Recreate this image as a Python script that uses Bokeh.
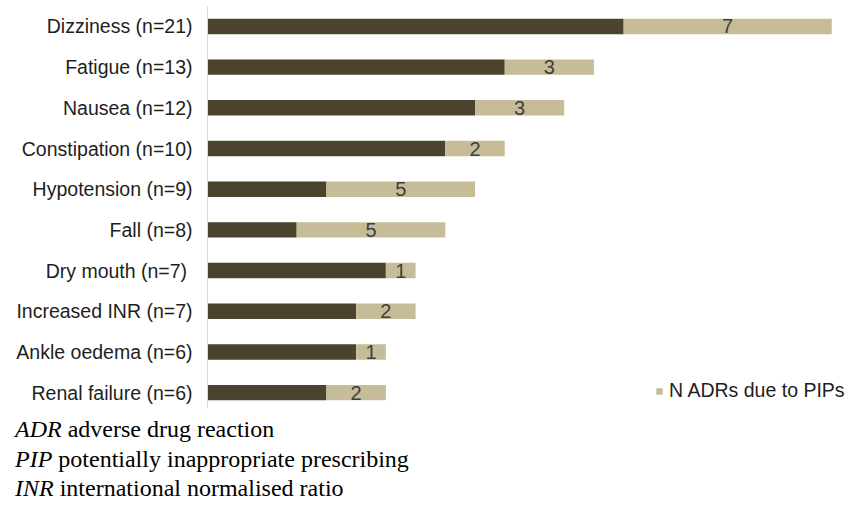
from bokeh.plotting import figure
from bokeh.models import Range1d, Div, Legend, LegendItem, ColumnDataSource, FixedTicker
from bokeh.layouts import column
from bokeh.embed import file_html
from bokeh.resources import INLINE
from bokeh.core.properties import value

categories = ["Dizziness (n=21)", "Fatigue (n=13)", "Nausea (n=12)", "Constipation (n=10)",
              "Hypotension (n=9)", "Fall (n=8)", "Dry mouth  (n=7)", "Increased INR (n=7)",
              "Ankle oedema (n=6)", "Renal failure (n=6)"]
totals = [21, 13, 12, 10, 9, 8, 7, 7, 6, 6]
pip_adrs = [7, 3, 3, 2, 5, 5, 1, 2, 1, 2]
legend_label = "N ADRs due to PIPs"
footnotes = [("ADR", "adverse drug reaction"),
             ("PIP", "potentially inappropriate prescribing"),
             ("INR", "international normalised ratio")]

DARK = "#4a432d"
LIGHT = "#c6bd98"

n = len(categories)
ypos = list(range(n - 1, -1, -1))
other = [t - q for t, q in zip(totals, pip_adrs)]
mid = [o + q / 2 for o, q in zip(other, pip_adrs)]

src = ColumnDataSource(dict(y=ypos, other=other, total=totals, mid=mid,
                            lab=[str(v) for v in pip_adrs]))

p = figure(width=855, height=415, output_backend="svg", toolbar_location=None,
           x_range=Range1d(0, 21.8), y_range=Range1d(-0.39, 9.49),
           min_border_left=207, min_border_right=0, min_border_top=6, min_border_bottom=7)

p.hbar(y="y", left=0, right="other", height=0.38, source=src,
       fill_color=DARK, line_color=None)
r_light = p.hbar(y="y", left="other", right="total", height=0.38, source=src,
                 fill_color=LIGHT, line_color=None)
p.text(x="mid", y="y", text="lab", source=src, text_align="center", text_baseline="middle",
       text_font=value("Liberation Sans"), text_font_size="20px", text_color="#3f3f3f")

p.xaxis.visible = False
p.xgrid.visible = False
p.ygrid.visible = False
p.outline_line_color = None
ax = p.yaxis[0]
ax.ticker = FixedTicker(ticks=ypos)
ax.major_label_overrides = {y: c for y, c in zip(ypos, categories)}
ax.axis_line_color = "#d9d9d9"
ax.major_tick_line_color = None
ax.minor_tick_line_color = None
ax.major_label_standoff = 9
ax.major_label_text_font = "Liberation Sans"
ax.major_label_text_font_size = "19.5px"
ax.major_label_text_color = "#1e1e1e"

leg = Legend(items=[LegendItem(label=legend_label, renderers=[r_light])],
             location=(448, 6), padding=0, margin=0, glyph_width=8, glyph_height=8,
             label_standoff=6, border_line_alpha=0, background_fill_alpha=0,
             label_text_font="Liberation Sans", label_text_font_size="19.5px",
             label_text_color="#1e1e1e")
p.add_layout(leg)

lines = "<br>".join(f"<i>{a}</i> {b}" for a, b in footnotes)
html = ('<div style="font-family: \'Liberation Serif\', \'Times New Roman\', serif; font-size: 24px; '
        'line-height: 29.5px; color: #000; padding-left: 15px; white-space: nowrap;">' + lines + '</div>')
div = Div(text=html, width=855, height=85, margin=(0, 0, 0, 0))

layout = column(p, div, spacing=0)
open("out.html", "w").write(file_html(layout, INLINE))
